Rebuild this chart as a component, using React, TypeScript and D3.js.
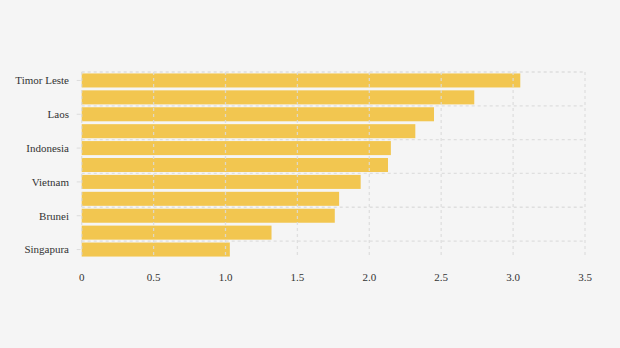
import React from "react";
import * as d3 from "d3";

const categories = [
  "Timor Leste", "Filipina", "Laos", "Kamboja", "Indonesia", "Myanmar",
  "Vietnam", "Thailand", "Brunei", "Malaysia", "Singapura",
];
const values = [3.05, 2.73, 2.45, 2.32, 2.15, 2.13, 1.94, 1.79, 1.76, 1.32, 1.03];
const xTicks = [0, 0.5, 1.0, 1.5, 2.0, 2.5, 3.0, 3.5];
const shownLabels = ["Timor Leste", "Laos", "Indonesia", "Vietnam", "Brunei", "Singapura"];

export default function App() {
  const W = 620, H = 348;
  const left = 81.7, right = 585, top = 72, bottom = 258;
  const x = d3.scaleLinear().domain([0, 3.5]).range([left, right]);
  const y = d3.scaleBand().domain(categories).range([top, bottom]).paddingInner(0.17).paddingOuter(0.085);
  const band = d3.scaleBand().domain(categories).range([top, bottom]);
  const font = "'Liberation Serif', 'Times New Roman', serif";
  const gridColor = "#dcdcdc";
  return (
    <svg width={W} height={H} style={{ position: "absolute", left: 0, top: 0, background: "#f5f5f5" }}>
      <rect x={0} y={0} width={W} height={H} fill="#f5f5f5" />
      {categories.map((c, i) => (
        <rect key={c} x={x(0)} y={y(c)!} width={x(values[i]) - x(0)} height={y.bandwidth()} fill="#f2c650" />
      ))}
      {xTicks.map((t) => (
        <line key={"v" + t} x1={x(t)} x2={x(t)} y1={top} y2={bottom} stroke={gridColor} strokeWidth={1.3} strokeDasharray="3,3" opacity={0.85} />
      ))}
      {categories.filter((_, i) => i % 2 === 0).map((c) => (
        <line key={"h" + c} x1={left} x2={right} y1={band(c)!} y2={band(c)!} stroke={gridColor} strokeWidth={1.3} strokeDasharray="3,3" opacity={0.85} />
      ))}
      {shownLabels.map((c) => {
        const cy = band(c)! + band.bandwidth() / 2;
        return (
          <g key={"l" + c}>
            <line x1={left - 5} x2={left - 1} y1={cy} y2={cy} stroke={gridColor} strokeWidth={1} />
            <text x={69} y={cy} dy="0.35em" textAnchor="end" fontFamily={font} fontSize={11} fill="#333">{c}</text>
          </g>
        );
      })}
      {xTicks.map((t) => (
        <text key={"t" + t} x={x(t)} y={277} dy="0.35em" textAnchor="middle" fontFamily={font} fontSize={11} fill="#333">
          {t === 0 ? "0" : t.toFixed(1)}
        </text>
      ))}
    </svg>
  );
}
